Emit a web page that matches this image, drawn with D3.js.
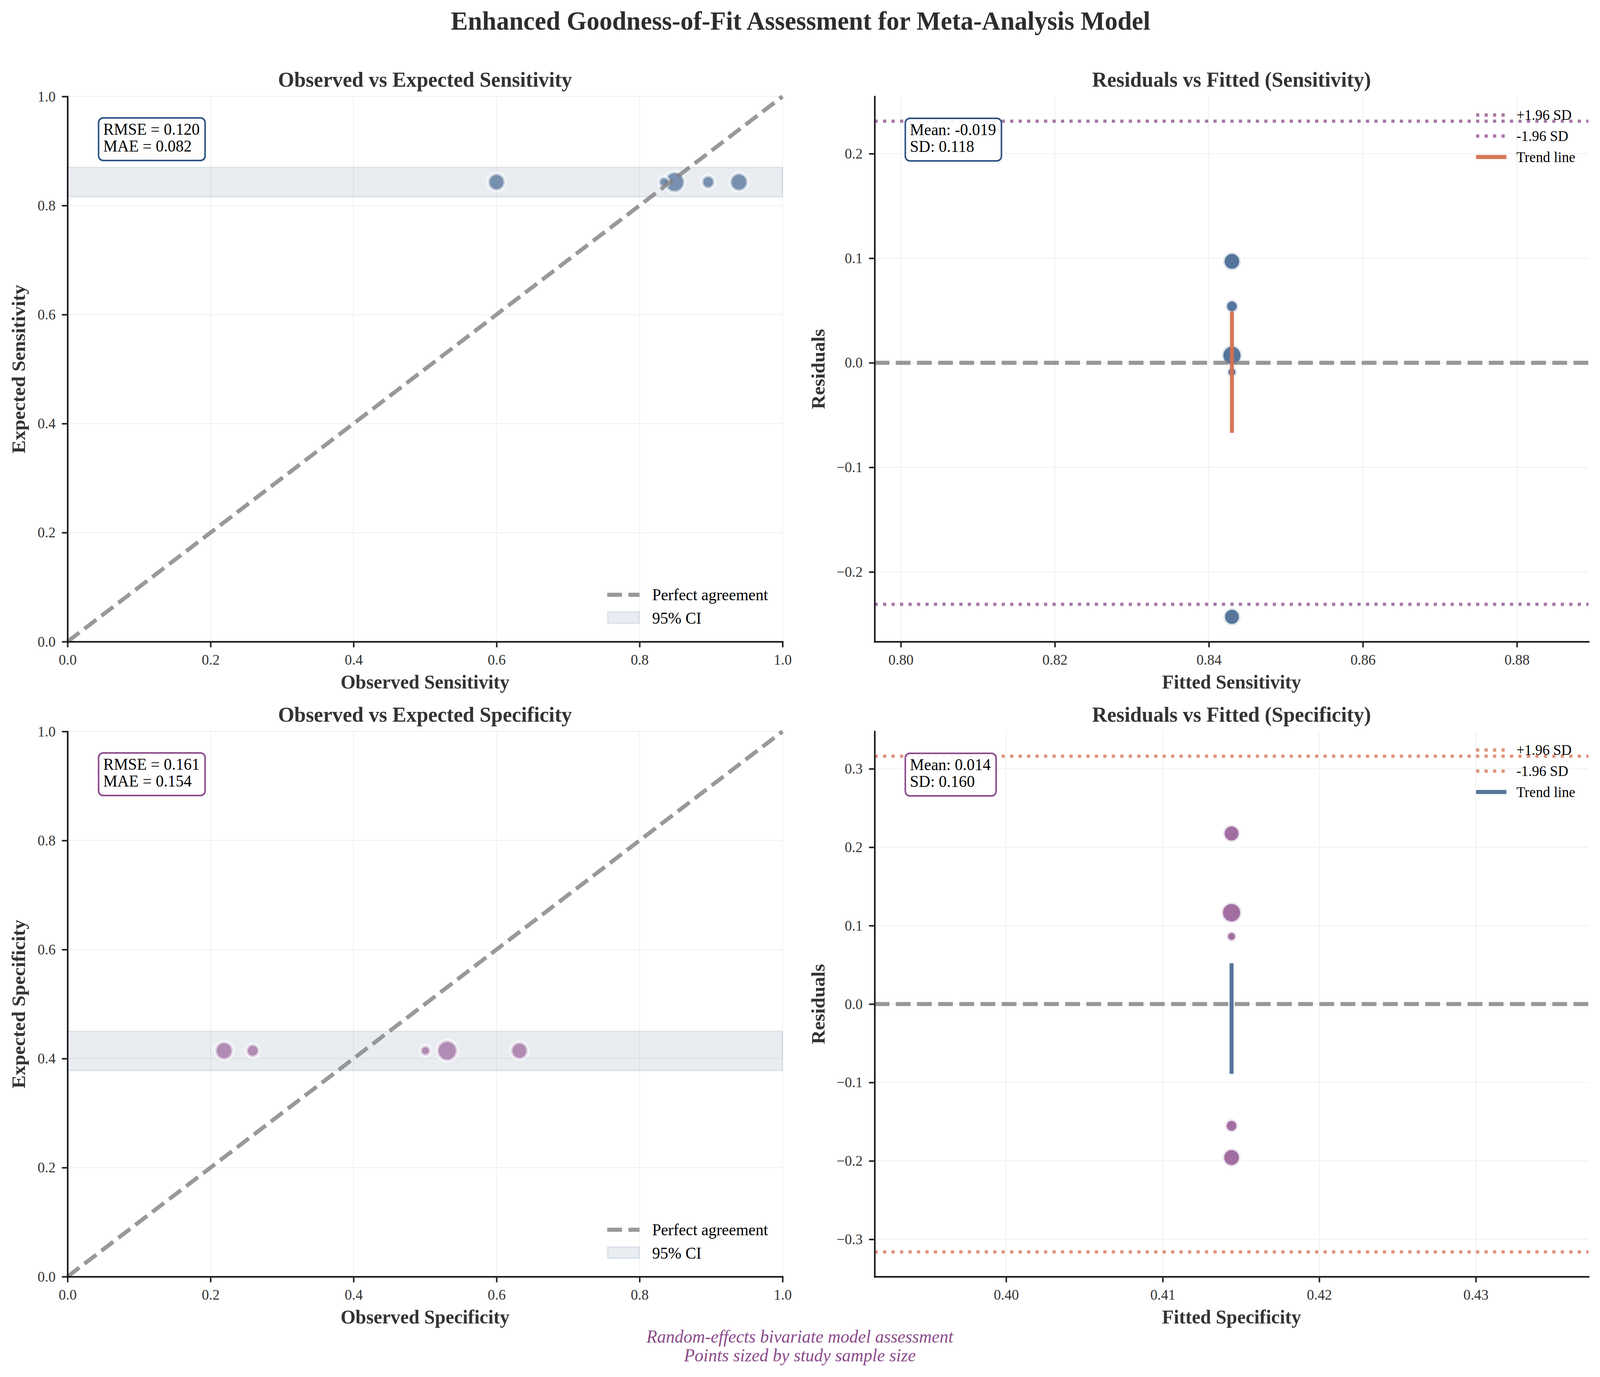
<!DOCTYPE html>
<html>
<head>
<meta charset="utf-8">
<script src="https://cdn.jsdelivr.net/npm/d3@7"></script>
<style>
  html, body { margin: 0; padding: 0; background: #ffffff; overflow: hidden; width: 100%; height: 100%; }
  svg { display: block; width: 100vw; height: 100vh; }
  text { font-family: "Liberation Serif", "Times New Roman", Times, serif; }
</style>
</head>
<body>
<svg id="chart" viewBox="0 0 4171 3526" preserveAspectRatio="none"></svg>
<script>
// ---------------- DATA ----------------
const studies = ["Study 1", "Study 2", "Study 3", "Study 4", "Study 5"];
const sampleSize = [300, 230, 210, 120, 75];

const observedSens = [0.849, 0.939, 0.600, 0.896, 0.834];
const expectedSens = [0.843, 0.843, 0.843, 0.843, 0.843];
const residualSens = [0.007, 0.097, -0.243, 0.054, -0.009];

const observedSpec = [0.531, 0.219, 0.632, 0.259, 0.5006];
const expectedSpec = [0.4144, 0.4144, 0.4144, 0.4144, 0.4144];
const residualSpec = [0.1165, -0.1957, 0.2175, -0.1553, 0.0862];

const ciSens = [0.816, 0.870];
const ciSpec = [0.378, 0.450];

const sdLimitsSens = [0.231, -0.231];
const sdLimitsSpec = [0.316, -0.316];

const trendSens = [-0.067, 0.049];
const trendSpec = [-0.089, 0.052];

const fitStatsSens = ["RMSE = 0.120", "MAE = 0.082"];
const fitStatsSpec = ["RMSE = 0.161", "MAE = 0.154"];
const residStatsSens = ["Mean: -0.019", "SD: 0.118"];
const residStatsSpec = ["Mean: 0.014", "SD: 0.160"];

const unitTicks = [0, 0.2, 0.4, 0.6, 0.8, 1.0];
const fittedSensTicks = [0.80, 0.82, 0.84, 0.86, 0.88];
const fittedSpecTicks = [0.40, 0.41, 0.42, 0.43];
const residSensTicks = [-0.2, -0.1, 0.0, 0.1, 0.2];
const residSpecTicks = [-0.3, -0.2, -0.1, 0.0, 0.1, 0.2, 0.3];

const fittedSensDomain = [0.7966, 0.8893];
const fittedSpecDomain = [0.3916, 0.4372];
const residSensDomain = [-0.2667, 0.2547];
const residSpecDomain = [-0.3476, 0.3476];

const legendLeft = ["Perfect agreement", "95% CI"];
const legendRight = ["+1.96 SD", "-1.96 SD", "Trend line"];

const mainTitle = "Enhanced Goodness-of-Fit Assessment for Meta-Analysis Model";
const panelTitles = ["Observed vs Expected Sensitivity", "Residuals vs Fitted (Sensitivity)",
                     "Observed vs Expected Specificity", "Residuals vs Fitted (Specificity)"];
const footerLines = ["Random-effects bivariate model assessment", "Points sized by study sample size"];

// ---------------- STYLE ----------------
const BLUE = "#2C5282";
const PURPLE = "#8B4A8B";
const ORANGE = "#D4704F";
const GRAY = "#808080";
const PT = 300 / 72;

const svg = d3.select("#chart");

const panels = [
  {x0: 176, x1: 2040, y0: 247, y1: 1643},
  {x0: 2280, x1: 4141, y0: 247, y1: 1643},
  {x0: 176, x1: 2040, y0: 1873, y1: 3269},
  {x0: 2280, x1: 4141, y0: 1873, y1: 3269}
];

const rScale = d3.scaleSqrt().domain([0, 300]).range([0, 26.5]);

function setupAxes(p, xDomain, yDomain, xTicks, yTicks, xFmt, yFmt, xLabel, yLabel, title, yLabelX) {
  const g = svg.append("g");
  const x = d3.scaleLinear().domain(xDomain).range([p.x0, p.x1]);
  const y = d3.scaleLinear().domain(yDomain).range([p.y1, p.y0]);

  // grid
  const grid = g.append("g");
  grid.selectAll("line.gx").data(xTicks).join("line")
    .attr("x1", d => x(d)).attr("x2", d => x(d))
    .attr("y1", p.y0).attr("y2", p.y1)
    .attr("stroke", "#efefef").attr("stroke-width", 2);
  grid.selectAll("line.gy").data(yTicks).join("line")
    .attr("y1", d => y(d)).attr("y2", d => y(d))
    .attr("x1", p.x0).attr("x2", p.x1)
    .attr("stroke", "#efefef").attr("stroke-width", 2);

  const dataG = g.append("g");
  const axG = g.append("g");

  const xAxis = d3.axisBottom(x).tickValues(xTicks).tickFormat(d3.format(xFmt))
    .tickSize(14.6).tickSizeOuter(0).tickPadding(17.5);
  const yAxis = d3.axisLeft(y).tickValues(yTicks).tickFormat(d3.format(yFmt))
    .tickSize(14.6).tickSizeOuter(0).tickPadding(16.5);

  const xa = axG.append("g").attr("transform", `translate(0,${p.y1})`).call(xAxis);
  const ya = axG.append("g").attr("transform", `translate(${p.x0},0)`).call(yAxis);
  [xa, ya].forEach(a => {
    a.select(".domain").attr("stroke", "#111").attr("stroke-width", 4).attr("stroke-linecap", "square");
    a.selectAll(".tick line").attr("stroke", "#222").attr("stroke-width", 4);
    a.selectAll(".tick text").attr("fill", "#333").style("font-size", "37.5px")
      .style("font-family", '"Liberation Serif", "Times New Roman", serif');
  });

  // labels
  g.append("text").attr("x", (p.x0 + p.x1) / 2).attr("y", p.y1 + 120)
    .attr("text-anchor", "middle").attr("font-weight", "bold").attr("fill", "#333")
    .style("font-size", "50px").text(xLabel);
  g.append("text").attr("transform", `translate(${yLabelX},${(p.y0 + p.y1) / 2}) rotate(-90)`)
    .attr("text-anchor", "middle").attr("font-weight", "bold").attr("fill", "#333")
    .style("font-size", "50px").text(yLabel);
  g.append("text").attr("x", (p.x0 + p.x1) / 2).attr("y", p.y0 - 25)
    .attr("text-anchor", "middle").attr("font-weight", "bold").attr("fill", "#333")
    .style("font-size", "54.2px").text(title);

  return {g, dataG, x, y, p};
}

function statBox(g, x, yTop, lines, color) {
  const bg = g.append("g");
  const rect = bg.append("rect");
  const texts = lines.map((t, i) => bg.append("text")
    .attr("x", x + 12).attr("y", yTop + 43 + i * 43)
    .attr("fill", "#000").style("font-size", "41.7px").text(t));
  const w = d3.max(texts, t => t.node().getComputedTextLength()) + 26;
  rect.attr("x", x).attr("y", yTop).attr("width", w).attr("height", 109)
    .attr("rx", 12).attr("ry", 12)
    .attr("fill", "#fff").attr("fill-opacity", 0.9)
    .attr("stroke", color).attr("stroke-width", 4);
}

function observedPanel(idx, obs, exp, ci, color, xLabel, yLabel, stats) {
  const p = panels[idx];
  const A = setupAxes(p, [0, 1], [0, 1], unitTicks, unitTicks, ".1f", ".1f", xLabel, yLabel, panelTitles[idx], p.x0 - 111);
  const {dataG, x, y} = A;
  // CI band
  dataG.append("rect")
    .attr("x", x(0)).attr("width", x(1) - x(0))
    .attr("y", y(ci[1])).attr("height", y(ci[0]) - y(ci[1]))
    .attr("fill", BLUE).attr("fill-opacity", 0.1)
    .attr("stroke", BLUE).attr("stroke-opacity", 0.1).attr("stroke-width", 4);
  // points
  dataG.selectAll("circle").data(obs.map((o, i) => ({o, e: exp[i], n: sampleSize[i]}))).join("circle")
    .attr("cx", d => x(d.o)).attr("cy", d => y(d.e)).attr("r", d => rScale(d.n))
    .attr("fill", color).attr("fill-opacity", 0.6)
    .attr("stroke", "#fff").attr("stroke-opacity", 0.6).attr("stroke-width", 2 * PT);
  // diagonal
  dataG.append("line")
    .attr("x1", x(0)).attr("y1", y(0)).attr("x2", x(1)).attr("y2", y(1))
    .attr("stroke", GRAY).attr("stroke-opacity", 0.8).attr("stroke-width", 2.5 * PT)
    .attr("stroke-dasharray", `${3.7 * 2.5 * PT},${1.6 * 2.5 * PT}`);
  // legend (lower right)
  const lg = A.g.append("g");
  lg.append("line").attr("x1", p.x1 - 457).attr("x2", p.x1 - 373)
    .attr("y1", p.y1 - 120).attr("y2", p.y1 - 120)
    .attr("stroke", GRAY).attr("stroke-opacity", 0.8).attr("stroke-width", 2.5 * PT)
    .attr("stroke-dasharray", `${3.7 * 2.5 * PT},${1.6 * 2.5 * PT}`);
  lg.append("text").attr("x", p.x1 - 340).attr("y", p.y1 - 106)
    .style("font-size", "41.7px").attr("fill", "#000").text(legendLeft[0]);
  lg.append("rect").attr("x", p.x1 - 456).attr("y", p.y1 - 76).attr("width", 82).attr("height", 29)
    .attr("fill", BLUE).attr("fill-opacity", 0.1)
    .attr("stroke", BLUE).attr("stroke-opacity", 0.1).attr("stroke-width", 4);
  lg.append("text").attr("x", p.x1 - 340).attr("y", p.y1 - 46)
    .style("font-size", "41.7px").attr("fill", "#000").text(legendLeft[1]);
  statBox(A.g, p.x0 + 81, p.y0 + 55, stats, color === BLUE ? BLUE : PURPLE);
}

function residualPanel(idx, fitted, resid, xDomain, yDomain, xTicks, yTicks, sdLim, trend, ptColor, limColor, trendColor, xLabel, stats) {
  const p = panels[idx];
  const A = setupAxes(p, xDomain, yDomain, xTicks, yTicks, ".2f", ".1f", xLabel, "Residuals", panelTitles[idx], p.x0 - 130);
  const {dataG, x, y} = A;
  dataG.selectAll("circle").data(resid.map((r, i) => ({f: fitted[i], r, n: sampleSize[i]}))).join("circle")
    .attr("cx", d => x(d.f)).attr("cy", d => y(d.r)).attr("r", d => rScale(d.n))
    .attr("fill", ptColor).attr("fill-opacity", 0.8)
    .attr("stroke", "#fff").attr("stroke-opacity", 0.8).attr("stroke-width", 2 * PT);
  // zero line
  dataG.append("line").attr("x1", p.x0).attr("x2", p.x1).attr("y1", y(0)).attr("y2", y(0))
    .attr("stroke", GRAY).attr("stroke-opacity", 0.8).attr("stroke-width", 2.5 * PT)
    .attr("stroke-dasharray", `${3.7 * 2.5 * PT},${1.6 * 2.5 * PT}`);
  // SD limits
  dataG.selectAll("line.sd").data(sdLim).join("line").attr("class", "sd")
    .attr("x1", p.x0).attr("x2", p.x1).attr("y1", d => y(d)).attr("y2", d => y(d))
    .attr("stroke", limColor).attr("stroke-opacity", 0.75).attr("stroke-width", 2 * PT)
    .attr("stroke-dasharray", `${2 * PT},${1.65 * 2 * PT}`);
  // trend line
  dataG.append("line").attr("x1", x(fitted[0])).attr("x2", x(fitted[0]))
    .attr("y1", y(trend[0])).attr("y2", y(trend[1]))
    .attr("stroke", trendColor).attr("stroke-opacity", trendColor === ORANGE ? 0.95 : 0.8)
    .attr("stroke-width", 2.5 * PT);
  // legend (upper right)
  const lg = A.g.append("g");
  const rows = [47.5, 101.5, 155];
  rows.forEach((dy, i) => {
    const ly = p.y0 + dy;
    const l = lg.append("line").attr("x1", p.x1 - 293).attr("x2", p.x1 - 214)
      .attr("y1", ly).attr("y2", ly);
    if (i < 2) {
      l.attr("stroke", limColor).attr("stroke-opacity", 0.75).attr("stroke-width", 2 * PT)
        .attr("stroke-dasharray", `${2 * PT},${1.65 * 2 * PT}`);
    } else {
      l.attr("stroke", trendColor).attr("stroke-opacity", trendColor === ORANGE ? 0.95 : 0.8)
        .attr("stroke-width", 2.5 * PT);
    }
    lg.append("text").attr("x", p.x1 - 188).attr("y", ly + 13)
      .style("font-size", "37.5px").attr("fill", "#000").text(legendRight[i]);
  });
  statBox(A.g, p.x0 + 80, p.y0 + 56, stats, ptColor);
}

observedPanel(0, observedSens, expectedSens, ciSens, BLUE, "Observed Sensitivity", "Expected Sensitivity", fitStatsSens);
residualPanel(1, expectedSens, residualSens, fittedSensDomain, residSensDomain, fittedSensTicks, residSensTicks,
  sdLimitsSens, trendSens, BLUE, PURPLE, ORANGE, "Fitted Sensitivity", residStatsSens);
observedPanel(2, observedSpec, expectedSpec, ciSpec, PURPLE, "Observed Specificity", "Expected Specificity", fitStatsSpec);
residualPanel(3, expectedSpec, residualSpec, fittedSpecDomain, residSpecDomain, fittedSpecTicks, residSpecTicks,
  sdLimitsSpec, trendSpec, PURPLE, ORANGE, BLUE, "Fitted Specificity", residStatsSpec);

// main title
svg.append("text").attr("x", 2087).attr("y", 76).attr("text-anchor", "middle")
  .attr("font-weight", "bold").attr("fill", "#2d2d2d").style("font-size", "66.7px").text(mainTitle);

// footer
footerLines.forEach((t, i) => {
  svg.append("text").attr("x", 2085).attr("y", 3438 + i * 48).attr("text-anchor", "middle")
    .attr("font-style", "italic").attr("fill", PURPLE).style("font-size", "45.8px").text(t);
});
</script>
</body>
</html>
